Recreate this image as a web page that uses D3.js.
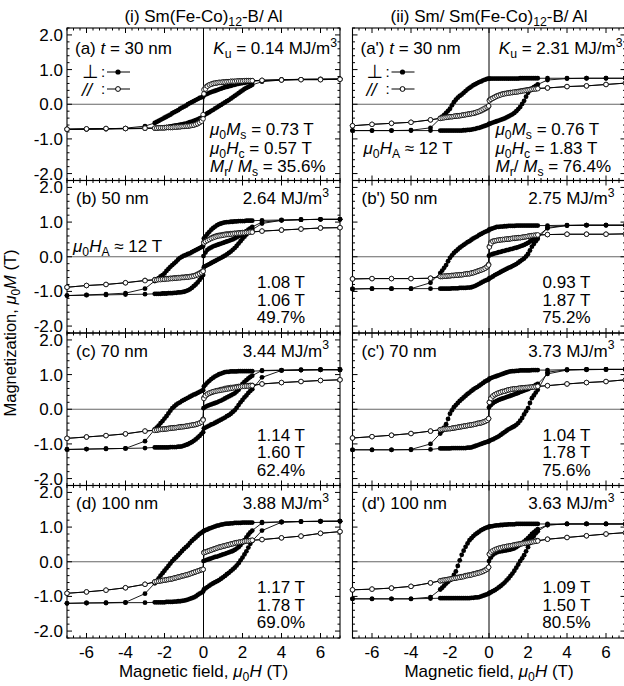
<!DOCTYPE html>
<html><head><meta charset="utf-8">
<script src="https://cdn.jsdelivr.net/npm/d3@7"></script>
<style>body{margin:0;background:#fff}svg text{font-family:"Liberation Sans",Arial,Helvetica,sans-serif;fill:#000}</style>
</head><body><svg id="c" width="624" height="686"></svg>
<script>
// ---------- measured field steps (T) ----------
const fieldDown = [7,6,5,4,3, 2.5,2.4,2.3,2.2,2.1,2.0,1.9,1.8,1.7,1.6,1.5,1.4,1.3,1.2,1.1,1.0,0.9,0.8,0.7,0.6,0.5,0.4,0.3,0.2,0.1,0.02, -0.02,-0.1,-0.2,-0.3,-0.4,-0.5,-0.6,-0.7,-0.8,-0.9,-1.0,-1.1,-1.2,-1.3,-1.4,-1.5,-1.6,-1.7,-1.8,-1.9,-2.0,-2.1,-2.2,-2.3,-2.4,-2.5, -3,-4,-5,-6,-7];
const fieldUp = [-7,-6,-5,-4,-3, -2.5,-2.4,-2.3,-2.2,-2.1,-2.0,-1.9,-1.8,-1.7,-1.6,-1.5,-1.4,-1.3,-1.2,-1.1,-1.0,-0.9,-0.8,-0.7,-0.6,-0.5,-0.4,-0.3,-0.2,-0.1,-0.02, 0.02,0.1,0.2,0.3,0.4,0.5,0.6,0.7,0.8,0.9,1.0,1.1,1.2,1.3,1.4,1.5,1.6,1.7,1.8,1.9,2.0,2.1,2.2,2.3,2.4,2.5, 3,4,5,6,7];
const fieldVirgin = [0,0.1,0.2,0.3,0.4,0.5,0.6,0.7,0.8,0.9,1.0,1.1,1.2,1.3,1.4,1.5,1.6,1.7,1.8,1.9,2.0,2.1,2.2,2.3,2.4,2.5, 3,4,5,6,7];

// ---------- (a) ----------
const a_perpDown = [0.73,0.73,0.72,0.71,0.69, 0.66,0.65,0.64,0.63,0.62,0.61,0.60,0.59,0.58,0.56,0.55,0.53,0.52,0.50,0.49,0.47,0.45,0.43,0.41,0.39,0.37,0.35,0.33,0.30,0.28,0.26, 0.22,0.20,0.18,0.15,0.12,0.09,0.06,0.03,0.00,-0.04,-0.07,-0.10,-0.13,-0.17,-0.20,-0.23,-0.26,-0.30,-0.33,-0.36,-0.39,-0.42,-0.45,-0.48,-0.51,-0.54, -0.63,-0.69,-0.71,-0.72,-0.72];
const a_perpUp = [-0.73,-0.72,-0.72,-0.71,-0.70, -0.69,-0.68,-0.68,-0.67,-0.67,-0.66,-0.66,-0.65,-0.64,-0.63,-0.62,-0.61,-0.60,-0.59,-0.58,-0.57,-0.56,-0.54,-0.52,-0.50,-0.48,-0.46,-0.44,-0.41,-0.39,-0.36, -0.32,-0.29,-0.26,-0.23,-0.19,-0.16,-0.12,-0.09,-0.05,-0.02,0.02,0.05,0.09,0.12,0.16,0.20,0.24,0.28,0.32,0.36,0.40,0.44,0.47,0.50,0.53,0.56, 0.65,0.70,0.72,0.72,0.73];
const a_paraDown = [0.72,0.71,0.71,0.70,0.69, 0.68,0.68,0.68,0.68,0.67,0.67,0.67,0.67,0.66,0.66,0.66,0.66,0.65,0.65,0.64,0.64,0.63,0.63,0.62,0.61,0.60,0.58,0.56,0.53,0.49,0.42, -0.30,-0.44,-0.52,-0.56,-0.58,-0.60,-0.61,-0.62,-0.63,-0.63,-0.64,-0.64,-0.65,-0.65,-0.66,-0.66,-0.67,-0.67,-0.67,-0.67,-0.68,-0.68,-0.68,-0.68,-0.69,-0.69, -0.69,-0.70,-0.70,-0.71,-0.72];
const a_paraUp = [-0.72,-0.71,-0.70,-0.70,-0.69, -0.69,-0.69,-0.68,-0.68,-0.68,-0.68,-0.67,-0.67,-0.67,-0.67,-0.66,-0.66,-0.65,-0.65,-0.64,-0.64,-0.63,-0.63,-0.62,-0.61,-0.60,-0.58,-0.56,-0.53,-0.49,-0.42, 0.30,0.44,0.52,0.56,0.58,0.60,0.61,0.62,0.63,0.63,0.64,0.64,0.65,0.65,0.66,0.66,0.66,0.67,0.67,0.67,0.67,0.68,0.68,0.68,0.68,0.68, 0.69,0.70,0.71,0.71,0.72];
// ---------- (b) ----------
const b_perpDown = [1.08,1.08,1.07,1.06,1.05, 1.04,1.04,1.04,1.04,1.03,1.03,1.03,1.03,1.02,1.02,1.01,1.01,1.00,1.00,0.99,0.98,0.96,0.94,0.91,0.87,0.83,0.78,0.72,0.66,0.59,0.53, 0.31,0.28,0.25,0.22,0.19,0.16,0.13,0.10,0.08,0.05,0.03,0.00,-0.03,-0.08,-0.14,-0.19,-0.24,-0.29,-0.35,-0.41,-0.48,-0.53,-0.57,-0.62,-0.66,-0.70, -0.92,-1.05,-1.08,-1.10,-1.12];
const b_perpUp = [-1.12,-1.11,-1.10,-1.09,-1.08, -1.07,-1.07,-1.07,-1.07,-1.06,-1.06,-1.06,-1.05,-1.05,-1.05,-1.04,-1.04,-1.03,-1.03,-1.02,-1.01,-0.99,-0.97,-0.94,-0.90,-0.85,-0.80,-0.74,-0.67,-0.60,-0.53, -0.30,-0.27,-0.24,-0.21,-0.18,-0.15,-0.12,-0.09,-0.06,-0.03,0.00,0.03,0.07,0.11,0.15,0.20,0.25,0.31,0.38,0.45,0.52,0.58,0.64,0.69,0.74,0.78, 0.96,1.05,1.07,1.08,1.08];
const b_perpVirgin = [0.02,0.12,0.20,0.24,0.27,0.30,0.32,0.34,0.36,0.38,0.40,0.42,0.44,0.46,0.48,0.50,0.53,0.56,0.59,0.62,0.66,0.70,0.74,0.78,0.82,0.86, 1.00,1.05,1.07,1.08,1.08];
const b_paraDown = [0.84,0.83,0.80,0.77,0.74, 0.72,0.72,0.71,0.71,0.70,0.70,0.69,0.69,0.68,0.68,0.67,0.67,0.66,0.66,0.65,0.64,0.63,0.62,0.61,0.59,0.57,0.54,0.51,0.48,0.45,0.42, -0.40,-0.44,-0.47,-0.50,-0.53,-0.55,-0.56,-0.57,-0.58,-0.58,-0.59,-0.59,-0.60,-0.60,-0.61,-0.61,-0.62,-0.62,-0.63,-0.63,-0.64,-0.64,-0.65,-0.65,-0.66,-0.66, -0.68,-0.75,-0.80,-0.83,-0.88];
const b_paraUp = [-0.88,-0.83,-0.80,-0.75,-0.69, -0.67,-0.67,-0.66,-0.66,-0.65,-0.65,-0.64,-0.64,-0.63,-0.63,-0.62,-0.62,-0.61,-0.61,-0.60,-0.60,-0.59,-0.59,-0.58,-0.57,-0.56,-0.54,-0.52,-0.49,-0.46,-0.42, 0.40,0.44,0.47,0.50,0.53,0.55,0.57,0.59,0.60,0.61,0.62,0.63,0.64,0.64,0.65,0.66,0.67,0.67,0.68,0.68,0.69,0.69,0.70,0.70,0.71,0.71, 0.74,0.77,0.80,0.83,0.84];
// ---------- (c) ----------
const c_perpDown = [1.14,1.14,1.13,1.12,1.11, 1.10,1.10,1.10,1.10,1.10,1.10,1.10,1.10,1.09,1.09,1.09,1.09,1.08,1.08,1.07,1.05,1.03,1.01,0.98,0.95,0.91,0.87,0.82,0.77,0.71,0.66, 0.55,0.53,0.50,0.47,0.44,0.42,0.39,0.36,0.33,0.30,0.27,0.24,0.20,0.17,0.13,0.08,0.03,-0.04,-0.12,-0.20,-0.27,-0.34,-0.40,-0.47,-0.53,-0.58, -0.92,-1.13,-1.14,-1.15,-1.16];
const c_perpUp = [-1.16,-1.15,-1.14,-1.13,-1.12, -1.10,-1.10,-1.10,-1.10,-1.10,-1.10,-1.10,-1.10,-1.09,-1.09,-1.09,-1.09,-1.08,-1.08,-1.07,-1.05,-1.03,-1.01,-0.98,-0.95,-0.91,-0.87,-0.82,-0.77,-0.71,-0.66, -0.55,-0.53,-0.50,-0.47,-0.44,-0.42,-0.39,-0.36,-0.33,-0.30,-0.27,-0.24,-0.20,-0.17,-0.13,-0.08,-0.03,0.04,0.12,0.20,0.27,0.34,0.40,0.47,0.53,0.58, 0.92,1.12,1.13,1.14,1.14];
const c_perpVirgin = [0.03,0.07,0.10,0.12,0.14,0.16,0.18,0.20,0.23,0.25,0.28,0.31,0.34,0.37,0.40,0.43,0.46,0.51,0.56,0.64,0.73,0.79,0.84,0.89,0.93,0.97, 1.12,1.13,1.14,1.14,1.14];
const c_paraDown = [0.85,0.83,0.80,0.77,0.73, 0.69,0.69,0.68,0.68,0.67,0.67,0.66,0.66,0.65,0.64,0.63,0.63,0.62,0.61,0.60,0.58,0.57,0.55,0.54,0.52,0.50,0.48,0.46,0.43,0.39,0.33, -0.29,-0.36,-0.40,-0.42,-0.44,-0.45,-0.46,-0.47,-0.48,-0.49,-0.50,-0.50,-0.51,-0.52,-0.53,-0.53,-0.54,-0.54,-0.55,-0.56,-0.57,-0.57,-0.58,-0.59,-0.60,-0.60, -0.63,-0.71,-0.76,-0.80,-0.84];
const c_paraUp = [-0.84,-0.80,-0.76,-0.71,-0.63, -0.61,-0.60,-0.59,-0.58,-0.58,-0.57,-0.57,-0.56,-0.55,-0.54,-0.54,-0.53,-0.52,-0.51,-0.51,-0.50,-0.49,-0.48,-0.47,-0.46,-0.45,-0.44,-0.42,-0.40,-0.37,-0.31, 0.31,0.39,0.44,0.47,0.49,0.51,0.52,0.53,0.54,0.55,0.56,0.57,0.58,0.59,0.60,0.61,0.62,0.63,0.64,0.65,0.66,0.66,0.67,0.67,0.68,0.68, 0.73,0.77,0.80,0.83,0.85];
// ---------- (d) ----------
const d_perpDown = [1.17,1.16,1.16,1.15,1.14, 1.13,1.13,1.13,1.13,1.13,1.13,1.12,1.12,1.12,1.12,1.11,1.11,1.10,1.10,1.09,1.08,1.07,1.05,1.04,1.02,1.00,0.98,0.96,0.93,0.91,0.89, 0.87,0.84,0.80,0.75,0.70,0.65,0.60,0.54,0.47,0.42,0.37,0.31,0.25,0.19,0.13,0.08,0.02,-0.05,-0.12,-0.19,-0.26,-0.33,-0.40,-0.48,-0.55,-0.62, -0.92,-1.17,-1.18,-1.19,-1.20];
const d_perpUp = [-1.20,-1.19,-1.19,-1.18,-1.18, -1.17,-1.17,-1.17,-1.17,-1.17,-1.17,-1.16,-1.16,-1.16,-1.16,-1.15,-1.15,-1.14,-1.14,-1.13,-1.12,-1.11,-1.09,-1.07,-1.05,-1.03,-1.00,-0.96,-0.92,-0.89,-0.86, -0.80,-0.77,-0.73,-0.69,-0.65,-0.62,-0.59,-0.56,-0.53,-0.49,-0.45,-0.41,-0.36,-0.32,-0.27,-0.22,-0.17,-0.11,-0.04,0.04,0.12,0.21,0.30,0.41,0.52,0.60, 0.90,1.14,1.16,1.17,1.17];
const d_perpVirgin = [0.02,0.04,0.06,0.08,0.10,0.12,0.14,0.15,0.17,0.19,0.21,0.23,0.25,0.27,0.29,0.31,0.34,0.38,0.42,0.48,0.55,0.62,0.70,0.78,0.85,0.90, 1.12,1.15,1.16,1.17,1.17];
const d_paraDown = [0.87,0.82,0.74,0.69,0.64, 0.62,0.61,0.60,0.60,0.59,0.58,0.57,0.56,0.55,0.54,0.52,0.51,0.49,0.48,0.46,0.45,0.43,0.42,0.40,0.38,0.36,0.34,0.32,0.30,0.28,0.27, -0.22,-0.23,-0.25,-0.27,-0.29,-0.31,-0.33,-0.35,-0.37,-0.38,-0.40,-0.41,-0.43,-0.44,-0.46,-0.47,-0.49,-0.50,-0.51,-0.52,-0.53,-0.54,-0.55,-0.56,-0.57,-0.58, -0.65,-0.75,-0.82,-0.87,-0.91];
const d_paraUp = [-0.91,-0.87,-0.82,-0.75,-0.65, -0.58,-0.57,-0.56,-0.55,-0.54,-0.53,-0.52,-0.51,-0.50,-0.49,-0.47,-0.46,-0.44,-0.43,-0.41,-0.40,-0.38,-0.37,-0.35,-0.33,-0.31,-0.29,-0.27,-0.25,-0.23,-0.22, 0.26,0.28,0.30,0.32,0.34,0.36,0.38,0.40,0.42,0.43,0.45,0.46,0.48,0.49,0.51,0.52,0.54,0.55,0.56,0.57,0.58,0.59,0.60,0.60,0.61,0.62, 0.64,0.69,0.74,0.82,0.87];
// ---------- (a') ----------
const ap_perpDown = [0.75,0.75,0.75,0.75,0.75, 0.75,0.75,0.75,0.75,0.75,0.75,0.75,0.75,0.75,0.75,0.74,0.74,0.74,0.74,0.74,0.74,0.74,0.74,0.74,0.74,0.74,0.74,0.74,0.74,0.74,0.74, 0.74,0.73,0.71,0.69,0.66,0.64,0.61,0.58,0.55,0.51,0.47,0.43,0.38,0.33,0.28,0.24,0.19,0.13,0.06,-0.03,-0.13,-0.19,-0.25,-0.31,-0.36,-0.41, -0.68,-0.75,-0.76,-0.76,-0.76];
const ap_perpUp = [-0.76,-0.76,-0.76,-0.76,-0.76, -0.76,-0.76,-0.76,-0.76,-0.76,-0.76,-0.76,-0.76,-0.76,-0.76,-0.76,-0.76,-0.75,-0.75,-0.74,-0.74,-0.73,-0.72,-0.71,-0.69,-0.68,-0.66,-0.64,-0.62,-0.60,-0.58, -0.56,-0.55,-0.53,-0.51,-0.49,-0.47,-0.45,-0.43,-0.41,-0.38,-0.35,-0.32,-0.29,-0.25,-0.20,-0.14,-0.08,0.01,0.10,0.22,0.33,0.40,0.45,0.49,0.53,0.57, 0.70,0.74,0.75,0.75,0.75];
const ap_paraDown = [0.61,0.57,0.53,0.51,0.47, 0.46,0.45,0.45,0.44,0.43,0.42,0.41,0.40,0.39,0.38,0.37,0.36,0.35,0.34,0.34,0.33,0.32,0.31,0.30,0.28,0.26,0.24,0.21,0.18,0.15,0.12, -0.06,-0.10,-0.13,-0.16,-0.19,-0.21,-0.23,-0.25,-0.26,-0.27,-0.28,-0.29,-0.30,-0.31,-0.32,-0.33,-0.33,-0.34,-0.35,-0.36,-0.36,-0.37,-0.37,-0.38,-0.39,-0.40, -0.45,-0.52,-0.55,-0.58,-0.62];
const ap_paraUp = [-0.62,-0.58,-0.55,-0.52,-0.45, -0.41,-0.40,-0.39,-0.38,-0.37,-0.36,-0.36,-0.35,-0.34,-0.34,-0.33,-0.32,-0.31,-0.30,-0.29,-0.28,-0.27,-0.26,-0.24,-0.22,-0.20,-0.17,-0.14,-0.11,-0.08,-0.05, 0.10,0.14,0.17,0.20,0.23,0.25,0.27,0.29,0.30,0.31,0.32,0.33,0.34,0.35,0.35,0.36,0.37,0.38,0.39,0.40,0.41,0.42,0.43,0.44,0.44,0.45, 0.47,0.51,0.53,0.57,0.61];
// ---------- (b') ----------
const bp_perpDown = [0.91,0.91,0.91,0.91,0.90, 0.90,0.90,0.90,0.90,0.90,0.90,0.90,0.90,0.90,0.90,0.90,0.90,0.89,0.89,0.89,0.89,0.88,0.88,0.87,0.87,0.86,0.86,0.84,0.82,0.80,0.79, 0.76,0.74,0.72,0.69,0.66,0.63,0.59,0.56,0.53,0.49,0.45,0.42,0.38,0.34,0.30,0.26,0.21,0.16,0.11,0.04,-0.03,-0.13,-0.24,-0.32,-0.40,-0.47, -0.75,-0.92,-0.92,-0.92,-0.93];
const bp_perpUp = [-0.93,-0.92,-0.92,-0.92,-0.92, -0.92,-0.92,-0.92,-0.92,-0.92,-0.92,-0.91,-0.91,-0.91,-0.91,-0.90,-0.90,-0.90,-0.90,-0.89,-0.89,-0.88,-0.86,-0.84,-0.81,-0.78,-0.75,-0.72,-0.69,-0.67,-0.65, -0.62,-0.60,-0.57,-0.53,-0.50,-0.47,-0.44,-0.41,-0.38,-0.35,-0.32,-0.30,-0.27,-0.24,-0.21,-0.17,-0.13,-0.09,-0.05,0.01,0.08,0.18,0.29,0.37,0.45,0.52, 0.85,0.90,0.91,0.91,0.91];
const bp_perpVirgin = [0.03,0.06,0.08,0.10,0.11,0.13,0.14,0.16,0.17,0.19,0.20,0.22,0.23,0.25,0.26,0.28,0.30,0.32,0.34,0.37,0.40,0.44,0.48,0.52,0.56,0.60, 0.82,0.90,0.91,0.91,0.91];
const bp_paraDown = [0.66,0.65,0.65,0.65,0.64, 0.62,0.62,0.61,0.61,0.60,0.59,0.58,0.57,0.56,0.55,0.55,0.54,0.53,0.53,0.52,0.51,0.51,0.50,0.49,0.49,0.48,0.47,0.46,0.45,0.42,0.30, -0.22,-0.29,-0.33,-0.36,-0.38,-0.40,-0.42,-0.44,-0.46,-0.47,-0.49,-0.49,-0.50,-0.51,-0.52,-0.52,-0.53,-0.53,-0.54,-0.54,-0.55,-0.55,-0.56,-0.56,-0.57,-0.57, -0.62,-0.63,-0.63,-0.63,-0.64];
const bp_paraUp = [-0.64,-0.63,-0.63,-0.63,-0.62, -0.57,-0.57,-0.56,-0.56,-0.55,-0.55,-0.54,-0.54,-0.53,-0.53,-0.52,-0.52,-0.51,-0.50,-0.49,-0.49,-0.47,-0.46,-0.44,-0.42,-0.40,-0.38,-0.36,-0.33,-0.29,-0.24, 0.28,0.38,0.44,0.46,0.47,0.48,0.49,0.50,0.50,0.51,0.51,0.52,0.53,0.54,0.54,0.55,0.55,0.56,0.57,0.58,0.59,0.60,0.61,0.62,0.62,0.63, 0.64,0.65,0.65,0.65,0.66];
// ---------- (c') ----------
const cp_perpDown = [1.15,1.15,1.15,1.14,1.13, 1.13,1.13,1.13,1.13,1.12,1.12,1.12,1.12,1.12,1.12,1.11,1.11,1.10,1.10,1.09,1.08,1.06,1.04,1.02,1.00,0.98,0.96,0.94,0.92,0.90,0.88, 0.85,0.83,0.80,0.76,0.72,0.68,0.64,0.61,0.57,0.53,0.48,0.44,0.39,0.34,0.29,0.24,0.18,0.12,0.06,-0.03,-0.13,-0.28,-0.43,-0.53,-0.62,-0.70, -1.00,-1.16,-1.17,-1.17,-1.17];
const cp_perpUp = [-1.17,-1.17,-1.17,-1.17,-1.16, -1.13,-1.13,-1.13,-1.13,-1.13,-1.13,-1.12,-1.12,-1.12,-1.12,-1.12,-1.12,-1.12,-1.12,-1.11,-1.11,-1.10,-1.08,-1.06,-1.04,-1.02,-1.00,-0.98,-0.96,-0.94,-0.93, -0.91,-0.89,-0.87,-0.84,-0.81,-0.78,-0.74,-0.70,-0.66,-0.62,-0.58,-0.55,-0.52,-0.49,-0.45,-0.40,-0.33,-0.25,-0.15,-0.06,0.03,0.18,0.32,0.40,0.48,0.56, 1.07,1.14,1.15,1.15,1.15];
const cp_perpVirgin = [0.05,0.12,0.17,0.21,0.24,0.27,0.29,0.31,0.33,0.35,0.37,0.39,0.41,0.43,0.45,0.47,0.50,0.52,0.54,0.56,0.58,0.61,0.64,0.67,0.70,0.73, 1.02,1.13,1.14,1.15,1.15];
const cp_paraDown = [0.85,0.80,0.77,0.73,0.68, 0.66,0.65,0.65,0.64,0.64,0.63,0.63,0.62,0.62,0.61,0.60,0.59,0.59,0.58,0.57,0.56,0.54,0.52,0.51,0.49,0.47,0.45,0.42,0.38,0.32,0.20, -0.27,-0.32,-0.35,-0.37,-0.39,-0.40,-0.41,-0.43,-0.44,-0.45,-0.46,-0.47,-0.48,-0.49,-0.50,-0.51,-0.52,-0.53,-0.54,-0.55,-0.56,-0.56,-0.57,-0.57,-0.58,-0.59, -0.63,-0.70,-0.75,-0.79,-0.83];
const cp_paraUp = [-0.83,-0.79,-0.75,-0.70,-0.63, -0.59,-0.58,-0.57,-0.57,-0.56,-0.56,-0.55,-0.54,-0.53,-0.52,-0.51,-0.50,-0.49,-0.48,-0.47,-0.46,-0.45,-0.44,-0.43,-0.41,-0.40,-0.39,-0.37,-0.35,-0.32,-0.27, 0.20,0.31,0.38,0.42,0.45,0.47,0.49,0.51,0.52,0.54,0.56,0.57,0.58,0.59,0.59,0.60,0.61,0.61,0.62,0.62,0.63,0.63,0.64,0.64,0.65,0.66, 0.68,0.73,0.77,0.80,0.85];
// ---------- (d') ----------
const dp_perpDown = [1.09,1.09,1.09,1.09,1.09, 1.09,1.09,1.09,1.09,1.09,1.09,1.09,1.09,1.09,1.09,1.09,1.09,1.08,1.08,1.08,1.08,1.07,1.07,1.06,1.06,1.05,1.05,1.04,1.03,1.02,1.02, 1.00,0.99,0.97,0.94,0.91,0.87,0.83,0.79,0.74,0.68,0.62,0.53,0.43,0.32,0.20,0.04,-0.12,-0.28,-0.38,-0.47,-0.53,-0.58,-0.63,-0.69,-0.75,-0.80, -1.02,-1.07,-1.07,-1.07,-1.07];
const dp_perpUp = [-1.07,-1.07,-1.07,-1.07,-1.06, -1.05,-1.05,-1.05,-1.05,-1.05,-1.05,-1.05,-1.05,-1.05,-1.05,-1.05,-1.05,-1.05,-1.05,-1.05,-1.05,-1.04,-1.04,-1.03,-1.03,-1.02,-1.00,-0.98,-0.96,-0.94,-0.92, -0.90,-0.88,-0.85,-0.82,-0.78,-0.74,-0.70,-0.65,-0.60,-0.54,-0.48,-0.41,-0.34,-0.26,-0.17,-0.08,0.02,0.10,0.19,0.30,0.42,0.54,0.65,0.74,0.82,0.88, 1.06,1.09,1.09,1.09,1.09];
const dp_perpVirgin = [0.02,0.12,0.20,0.24,0.27,0.29,0.30,0.31,0.32,0.33,0.34,0.35,0.37,0.39,0.42,0.46,0.50,0.54,0.58,0.63,0.68,0.74,0.80,0.85,0.90,0.94, 1.06,1.09,1.09,1.09,1.09];
const dp_paraDown = [0.84,0.80,0.75,0.70,0.65, 0.61,0.60,0.59,0.58,0.57,0.56,0.55,0.54,0.53,0.52,0.51,0.50,0.49,0.47,0.46,0.45,0.44,0.42,0.41,0.40,0.38,0.36,0.33,0.30,0.26,0.22, -0.16,-0.21,-0.24,-0.27,-0.29,-0.31,-0.32,-0.34,-0.35,-0.37,-0.38,-0.39,-0.40,-0.42,-0.43,-0.44,-0.45,-0.47,-0.48,-0.49,-0.50,-0.51,-0.52,-0.53,-0.54,-0.55, -0.61,-0.71,-0.76,-0.79,-0.81];
const dp_paraUp = [-0.81,-0.79,-0.76,-0.71,-0.61, -0.55,-0.54,-0.53,-0.52,-0.51,-0.50,-0.49,-0.48,-0.47,-0.46,-0.45,-0.44,-0.43,-0.41,-0.40,-0.39,-0.38,-0.36,-0.35,-0.33,-0.32,-0.30,-0.28,-0.25,-0.21,-0.16, 0.22,0.28,0.32,0.35,0.37,0.39,0.40,0.42,0.43,0.44,0.45,0.46,0.47,0.48,0.49,0.50,0.51,0.52,0.53,0.54,0.55,0.56,0.57,0.58,0.59,0.60, 0.65,0.70,0.75,0.80,0.84];

// ---------- annotations ----------
const columnTitles = [["(i) Sm(Fe-Co)",{t:"12",sub:1},"-B/ Al"],["(ii) Sm/ Sm(Fe-Co)",{t:"12",sub:1},"-B/ Al"]];
const rowLetters = ["a","b","c","d"];
const thickness = ["30 nm","50 nm","70 nm","100 nm"];
const kuVals = [["0.14","2.64","3.44","3.88"],["2.31","2.75","3.73","3.63"]];
const msVals = [["0.73","1.08","1.14","1.17"],["0.76","0.93","1.04","1.09"]];
const hcVals = [["0.57","1.06","1.60","1.78"],["1.83","1.87","1.78","1.50"]];
const mrVals = [["35.6","49.7","62.4","69.0"],["76.4","75.2","75.6","80.5"]];
const yTickLabels = ["-2.0","-1.0","0.0","1.0","2.0"];
const xTickLabels = ["-6","-4","-2","0","2","4","6"];

const loops = [
 [ {pd:a_perpDown,pu:a_perpUp,pv:null,qd:a_paraDown,qu:a_paraUp},
   {pd:b_perpDown,pu:b_perpUp,pv:b_perpVirgin,qd:b_paraDown,qu:b_paraUp},
   {pd:c_perpDown,pu:c_perpUp,pv:c_perpVirgin,qd:c_paraDown,qu:c_paraUp},
   {pd:d_perpDown,pu:d_perpUp,pv:d_perpVirgin,qd:d_paraDown,qu:d_paraUp} ],
 [ {pd:ap_perpDown,pu:ap_perpUp,pv:null,qd:ap_paraDown,qu:ap_paraUp},
   {pd:bp_perpDown,pu:bp_perpUp,pv:bp_perpVirgin,qd:bp_paraDown,qu:bp_paraUp},
   {pd:cp_perpDown,pu:cp_perpUp,pv:cp_perpVirgin,qd:cp_paraDown,qu:cp_paraUp},
   {pd:dp_perpDown,pu:dp_perpUp,pv:dp_perpVirgin,qd:dp_paraDown,qu:dp_paraUp} ]
];

// ---------- layout ----------
const svg = d3.select("#c");
const colX = [67, 352.5], pw = 273;
const rowY = [28, 180.5, 333, 485.5], ph = 152.5;
const FS = 17;
const x = d3.scaleLinear().domain([-7,7]).range([0,pw]);
const y = d3.scaleLinear().domain([-2.2,2.2]).range([ph,0]);
const line = d3.line().x(d=>x(d[0])).y(d=>y(d[1]));

function rich(sel, px, py, parts, anchor, fs){
  fs = fs||FS;
  const t = sel.append("text").attr("x",px).attr("y",py).attr("text-anchor",anchor||"start").style("font-size",fs+"px");
  let cur = 0;
  parts.forEach(p=>{
    if (typeof p === "string") p = {t:p};
    const target = p.sub ? fs*0.25 : (p.sup ? -fs*0.42 : 0);
    const ts = t.append("tspan").text(p.t);
    if (target !== cur) ts.attr("dy", target-cur);
    cur = target;
    if (p.sub || p.sup) ts.style("font-size",(fs*0.72)+"px");
    if (p.i) ts.style("font-style","italic");
  });
  return t;
}

const xMinor = d3.range(-21,22).map(k=>k/3).filter(v=>Math.abs(v-Math.round(v))>1e-6 || Math.round(v)%2!==0);
const xMajor = [-6,-4,-2,0,2,4,6];
const yMinor = d3.range(-11,12).map(k=>k/5).filter(v=>Math.abs(v-Math.round(v))>1e-6);
const yMajor = [-2,-1,0,1,2];

for (let c=0;c<2;c++){
  for (let r=0;r<4;r++){
    const g = svg.append("g").attr("transform",`translate(${colX[c]},${rowY[r]})`);
    g.append("line").attr("x1",0).attr("x2",pw).attr("y1",y(0)).attr("y2",y(0)).attr("stroke","#666").attr("stroke-width",1.2);
    g.append("line").attr("x1",x(0)).attr("x2",x(0)).attr("y1",0).attr("y2",ph).attr("stroke","#000").attr("stroke-width",1);
    const tk = g.append("g").attr("stroke","#000").attr("stroke-width",1);
    [[xMajor,5],[xMinor,2.5]].forEach(([arr,len])=>arr.forEach(v=>{
      tk.append("line").attr("x1",x(v)).attr("x2",x(v)).attr("y1",ph).attr("y2",ph-len);
      tk.append("line").attr("x1",x(v)).attr("x2",x(v)).attr("y1",0).attr("y2",len);
    }));
    [[yMajor,5],[yMinor,2.5]].forEach(([arr,len])=>arr.forEach(v=>{
      tk.append("line").attr("y1",y(v)).attr("y2",y(v)).attr("x1",0).attr("x2",len);
      tk.append("line").attr("y1",y(v)).attr("y2",y(v)).attr("x1",pw).attr("x2",pw-len);
    }));
    g.append("rect").attr("width",pw).attr("height",ph).attr("fill","none").attr("stroke","#000").attr("stroke-width",1.1);
    if (c===0){
      yMajor.forEach((v,i)=>g.append("text").attr("x",-4).attr("y",y(v)+6).attr("text-anchor","end").style("font-size",FS+"px").text(yTickLabels[i]));
    }
    if (r===3){
      xMajor.forEach((v,i)=>g.append("text").attr("x",x(v)).attr("y",ph+20).attr("text-anchor","middle").style("font-size",FS+"px").text(xTickLabels[i]));
    }
    const L = loops[c][r];
    const perp = [], para = [];
    if (L.pv) perp.push(fieldVirgin.map((h,i)=>[h,L.pv[i]]));
    perp.push(fieldDown.map((h,i)=>[h,L.pd[i]]));
    perp.push(fieldUp.map((h,i)=>[h,L.pu[i]]));
    para.push(fieldDown.map((h,i)=>[h,L.qd[i]]));
    para.push(fieldUp.map((h,i)=>[h,L.qu[i]]));
    const dg = g.append("g");
    perp.concat(para).forEach(b=>dg.append("path").attr("d",line(b)).attr("fill","none").attr("stroke","#000").attr("stroke-width",0.9));
    perp.forEach(b=>dg.selectAll(null).data(b).enter().append("circle").attr("cx",d=>x(d[0])).attr("cy",d=>y(d[1])).attr("r",2.4).attr("fill","#000"));
    para.forEach(b=>dg.selectAll(null).data(b).enter().append("circle").attr("cx",d=>x(d[0])).attr("cy",d=>y(d[1])).attr("r",2.3).attr("fill","#fff").attr("stroke","#000").attr("stroke-width",0.8));
    const tag = "(" + rowLetters[r] + (c===1?"'":"") + ")";
    const top = r===0 ? 26 : 23.5;
    if (r===0){
      rich(g, 8, top, [tag+" ",{t:"t",i:1}," = "+thickness[r]]);
      rich(g, pw-3, top, [{t:"K",i:1},{t:"u",sub:1}," = "+kuVals[c][r]+" MJ/m",{t:"3",sup:1}], "end");
      const sx = 143;
      rich(g, sx, 107, [{t:"μ",i:1},{t:"0",sub:1},{t:"M",i:1},{t:"s",sub:1}," = "+msVals[c][r]+" T"]);
      rich(g, sx, 125.5, [{t:"μ",i:1},{t:"0",sub:1},{t:"H",i:1},{t:"c",sub:1}," = "+hcVals[c][r]+" T"]);
      rich(g, sx, 144, [{t:"M",i:1},{t:"r",sub:1},"/ ",{t:"M",i:1},{t:"s",sub:1}," = "+mrVals[c][r]+"%"]);
      const lx = c===0 ? 15 : 14;
      const lg = g.append("g");
      lg.append("text").attr("x",lx).attr("y",50).style("font-size","19px").style("font-family","DejaVu Sans").text("⊥");
      lg.append("text").attr("x",lx).attr("y",68).style("font-size","18px").style("font-style","italic").text("//");
      lg.append("text").attr("x",lx+19).attr("y",49).style("font-size","15px").text(":");
      lg.append("text").attr("x",lx+19).attr("y",66).style("font-size","15px").text(":");
      lg.append("line").attr("x1",lx+25).attr("x2",lx+48).attr("y1",44).attr("y2",44).attr("stroke","#000");
      lg.append("circle").attr("cx",lx+36).attr("cy",44).attr("r",2.6).attr("fill","#000");
      lg.append("line").attr("x1",lx+25).attr("x2",lx+48).attr("y1",61).attr("y2",61).attr("stroke","#000");
      lg.append("circle").attr("cx",lx+36).attr("cy",61).attr("r",2.4).attr("fill","#fff").attr("stroke","#000");
      if (c===1) rich(g, 11, 126, [{t:"μ",i:1},{t:"0",sub:1},{t:"H",i:1},{t:"A",sub:1}," ≈ 12 T"]);
    } else {
      rich(g, 9, top, [tag+" "+thickness[r]]);
      rich(g, pw-11, top, [kuVals[c][r]+" MJ/m",{t:"3",sup:1}], "end");
      const ex = pw-35;
      rich(g, ex, 107.5, [msVals[c][r]+" T"], "end");
      rich(g, ex, 125, [hcVals[c][r]+" T"], "end");
      rich(g, ex, 142.5, [mrVals[c][r]+"%"], "end");
      if (c===0 && r===1) rich(g, 6, 71, [{t:"μ",i:1},{t:"0",sub:1},{t:"H",i:1},{t:"A",sub:1}," ≈ 12 T"]);
    }
  }
  rich(svg, colX[c]+pw/2, 22, columnTitles[c], "middle");
  rich(svg, colX[c]+pw/2, 677, ["Magnetic field, ",{t:"μ",i:1},{t:"0",sub:1},{t:"H",i:1}," (T)"], "middle");
}
const yt = svg.append("g").attr("transform","translate(15.5,333) rotate(-90)");
rich(yt, 0, 0, ["Magnetization, ",{t:"μ",i:1},{t:"0",sub:1},{t:"M",i:1}," (T)"], "middle", 16.5);
</script></body></html>
